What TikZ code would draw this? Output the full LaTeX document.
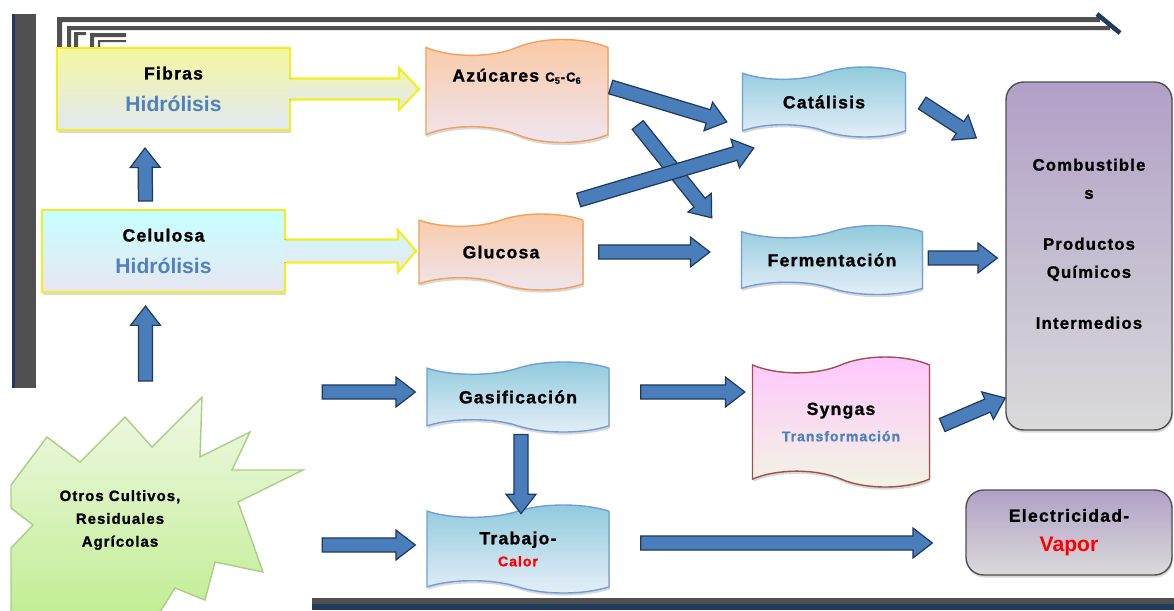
\documentclass[tikz,border=0pt]{standalone}
\usepackage{fontspec}
\setmainfont{Liberation Sans}[LetterSpace=7, BoldFeatures={FakeBold=1.2}]
\newfontfamily\plainsans{Liberation Sans}
\usetikzlibrary{shapes.symbols,shadows,calc}

\definecolor{framegray}{HTML}{505050}
\definecolor{framenavy}{HTML}{1F3B5E}
\definecolor{boxyellow}{HTML}{F0F020}
\definecolor{fibtop}{HTML}{F3F7A0}
\definecolor{fibbot}{HTML}{E2E8F2}
\definecolor{celtop}{HTML}{C6FFFF}
\definecolor{celbot}{HTML}{E8E6F2}
\definecolor{orline}{HTML}{F2A05A}
\definecolor{ortop}{HTML}{FBC9A4}
\definecolor{orbot}{HTML}{EEE6F2}
\definecolor{blline}{HTML}{6F9ED8}
\definecolor{bltop}{HTML}{8FCADB}
\definecolor{blbot}{HTML}{E6EFF9}
\definecolor{synline}{HTML}{A0504F}
\definecolor{syntop}{HTML}{FFC6FF}
\definecolor{synbot}{HTML}{F2F5E2}
\definecolor{purtop}{HTML}{B1A0C7}
\definecolor{purbot}{HTML}{DADADA}
\definecolor{startop}{HTML}{F0F8E4}
\definecolor{starbot}{HTML}{C2EE96}
\definecolor{starline}{HTML}{A9CF84}
\definecolor{arrowblue}{HTML}{4A7EBB}
\definecolor{arrowline}{HTML}{1F3A60}
\definecolor{txtblue}{HTML}{4F81BD}

% blue block arrow between two points
\newcommand{\blockarrow}[2]{%
  \filldraw[barrow] let \p1=(#1), \p2=(#2),
    \n1={atan2(\y2-\y1,\x2-\x1)}, \n2={veclen(\x2-\x1,\y2-\y1)} in
    [shift={(\p1)}, rotate=\n1]
    (0pt,-4pt) -- (\n2-11pt,-4pt) -- (\n2-11pt,-8.5pt) -- (\n2,0pt)
    -- (\n2-11pt,8.5pt) -- (\n2-11pt,4pt) -- (0pt,4pt) -- cycle;}
\newcommand{\bluetxt}[1]{{\plainsans\fontsize{12}{18}\selectfont\color{txtblue}#1}}

\begin{document}
\begin{tikzpicture}[x=0.02cm, y=-0.02cm,
  lbl/.style={font=\bfseries\fontsize{10}{18}\selectfont, align=center},
  shade/.style={drop shadow={opacity=0.3, shadow xshift=0.5pt, shadow yshift=-1.5pt}},
  hbox/.style={lbl, shade, draw=boxyellow, line width=1.2pt, inner sep=0pt},
  wave/.style={lbl, shade, tape, tape bend top=in and out, tape bend bottom=out and in,
    tape bend height=7pt, line width=0.8pt, inner sep=0pt},
  orwave/.style={wave, draw=orline, top color=ortop, bottom color=orbot},
  blwave/.style={wave, draw=blline, top color=bltop, bottom color=blbot},
  purbox/.style={lbl, shade, draw=framegray, line width=0.8pt, rounded corners=10pt,
    top color=purtop, bottom color=purbot, inner sep=0pt},
  barrow/.style={fill=arrowblue, draw=arrowline, line width=0.7pt, line join=miter}]

  \useasboundingbox (0,0) rectangle (1174,610);

  % frame
  \fill[framegray] (12,14) rectangle (36,388);
  \fill[framenavy] (12,14) rectangle (15,388);
  \fill[framegray] (312,598) rectangle (1174,604);
  \fill[framenavy] (312,604) rectangle (1174,610);
  \fill[framegray] (57,17) rectangle (1100,22) (57,17) rectangle (62,50);
  \fill[framegray] (67,26) rectangle (1110,30) (67,26) rectangle (71,50);
  \fill[framegray] (74,32) rectangle (86,35) (74,32) rectangle (78,50);
  \fill[framegray] (90,33) rectangle (126,37) (90,33) rectangle (94,50);
  \fill[framegray] (98,40) rectangle (126,42) (98,40) rectangle (100,50);
  \draw[framenavy, line width=2.6pt] (1097,14) -- (1120,33);

  % left column
  \node[hbox, top color=fibtop, bottom color=fibbot, minimum width=4.66cm,
    minimum height=1.64cm] (fib) at (173.5,89) {Fibras\\\bluetxt{Hidrólisis}};
  \node[hbox, top color=celtop, bottom color=celbot, minimum width=4.86cm,
    minimum height=1.64cm] (cel) at (163.5,251) {Celulosa\\\bluetxt{Hidrólisis}};

  \fill[top color=fibtop!80!fibbot, bottom color=fibbot]
    ($(fib.east)+(-1.5,-10.5)$) -- ($(fib.east)+(108,-10.5)$) -- ($(fib.east)+(108,-21)$)
    -- ($(fib.east)+(128,0)$) -- ($(fib.east)+(108,21)$) -- ($(fib.east)+(108,10.5)$)
    -- ($(fib.east)+(-1.5,10.5)$) -- cycle;
  \draw[boxyellow, line width=1.2pt]
    ($(fib.east)+(0,-10.5)$) -- ($(fib.east)+(108,-10.5)$) -- ($(fib.east)+(108,-21)$)
    -- ($(fib.east)+(128,0)$) -- ($(fib.east)+(108,21)$) -- ($(fib.east)+(108,10.5)$)
    -- ($(fib.east)+(0,10.5)$);
  \fill[top color=celtop!70!celbot, bottom color=celbot]
    ($(cel.east)+(-1.5,-11.5)$) -- ($(cel.east)+(112,-11.5)$) -- ($(cel.east)+(112,-21)$)
    -- ($(cel.east)+(130,0)$) -- ($(cel.east)+(112,21)$) -- ($(cel.east)+(112,11.5)$)
    -- ($(cel.east)+(-1.5,11.5)$) -- cycle;
  \draw[boxyellow, line width=1.2pt]
    ($(cel.east)+(0,-11.5)$) -- ($(cel.east)+(112,-11.5)$) -- ($(cel.east)+(112,-21)$)
    -- ($(cel.east)+(130,0)$) -- ($(cel.east)+(112,21)$) -- ($(cel.east)+(112,11.5)$)
    -- ($(cel.east)+(0,11.5)$);

  % starburst
  \filldraw[draw=starline, line width=0.8pt, top color=startop, bottom color=starbot]
    (11,485) -- (47,437) -- (80,462) -- (125,417) -- (152,447) -- (202,397)
    -- (200,457) -- (250,432) -- (232,470) -- (303,470) -- (238,502) -- (263,572)
    -- (215,562) -- (205,600) -- (175,588) -- (160,612) -- (11,612) -- (11,548)
    -- (33,525) -- (11,508) -- cycle;
  \node[lbl, font=\bfseries\fontsize{8.5}{13}\selectfont] (otros) at (120,520)
    {Otros Cultivos,\\Residuales\\Agrícolas};

  % middle
  \node[orwave, tape bend height=9pt, minimum width=3.64cm, minimum height=2.06cm,
    text depth=18pt] (azu) at (517,91)
    {Azúcares {\fontsize{7.5}{9}\selectfont C\textsubscript{5}-C\textsubscript{6}}};
  \node[orwave, minimum width=3.28cm, minimum height=1.52cm] (glu) at (501,252) {Glucosa};
  \node[blwave, minimum width=3.64cm, minimum height=1.4cm] (gas) at (518,397) {Gasificación};
  \node[blwave, minimum width=3.64cm, minimum height=1.76cm,
    font=\bfseries\fontsize{10}{12.5}\selectfont] (trab) at (518,549)
    {Trabajo-\\{\fontsize{8}{12.5}\selectfont\color{red}Calor}};
  \node[blwave, minimum width=3.26cm, minimum height=1.4cm] (cat) at (824,102) {Catálisis};
  \node[blwave, minimum width=3.62cm, minimum height=1.38cm] (ferm) at (832,260) {Fermentación};
  \node[wave, tape bend height=9pt, draw=synline, top color=syntop, bottom color=synbot,
    minimum width=3.54cm, minimum height=2.6cm, font=\bfseries\fontsize{10}{15}\selectfont]
    (syn) at (841,422)
    {Syngas\\{\fontsize{8}{15}\selectfont\color{txtblue}Transformación}};

  % right
  \node[purbox, minimum width=3.32cm, minimum height=6.96cm, text depth=14pt,
    font=\bfseries\fontsize{9.5}{16}\selectfont] (comb) at (1089,256)
    {Combustible\\s\\[13pt]Productos\\Químicos\\[13pt]Intermedios};
  \node[purbox, minimum width=4.12cm, minimum height=1.7cm,
    font=\bfseries\fontsize{10}{17}\selectfont] (elec) at (1069,532.5)
    {Electricidad-\\{\plainsans\bfseries\fontsize{12}{17}\selectfont\color{red}Vapor}};

  % arrows
  \blockarrow{$(cel.north)+(-18,-8)$}{$(fib.south)+(-28.5,17)$}
  \blockarrow{$(cel.south)+(-18,88)$}{$(cel.south)+(-18,13)$}
  \blockarrow{$(azu.east)+(2,-4)$}{$(cat.west)+(-15,20)$}
  \blockarrow{$(azu.east)+(29,34)$}{$(ferm.west)+(-29,-42)$}
  \blockarrow{$(glu.east)+(-5,-52)$}{$(cat.west)+(12,46)$}
  \blockarrow{$(glu.east)+(15,0)$}{$(ferm.west)+(-31,-8)$}
  \blockarrow{$(cat.east)+(16,1)$}{$(comb.west)+(-29,-118)$}
  \blockarrow{$(ferm.east)+(5,-2)$}{$(comb.west)+(-8,2)$}
  \blockarrow{$(syn.east)+(12,3)$}{$(comb.west)+(0,142)$}
  \blockarrow{$(gas.west)+(-104,-5)$}{$(gas.west)+(-11,-5)$}
  \blockarrow{$(gas.east)+(31,-5)$}{$(syn.west)+(-7,-30)$}
  \blockarrow{$(gas.south)+(3,8)$}{$(trab.north)+(3,3)$}
  \blockarrow{$(trab.west)+(-104,-4)$}{$(trab.west)+(-11,-4)$}
  \blockarrow{$(trab.east)+(31,-6)$}{$(elec.west)+(-33,10.5)$}
\end{tikzpicture}
\end{document}
